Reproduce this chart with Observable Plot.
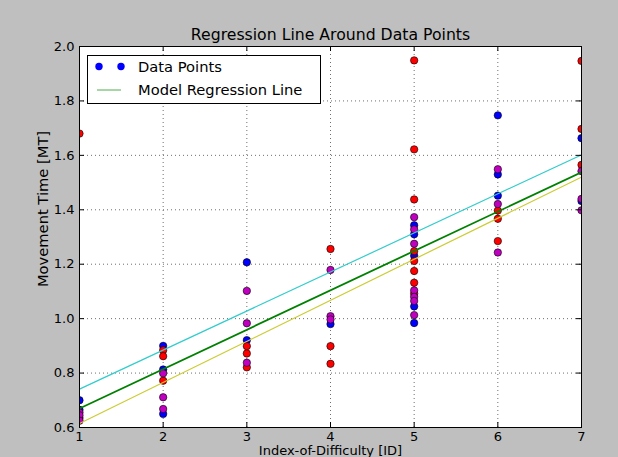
<!DOCTYPE html>
<html><head><meta charset="utf-8">
<script src="https://cdn.jsdelivr.net/npm/d3@7"></script>
<script src="https://cdn.jsdelivr.net/npm/@observablehq/plot@0.6"></script>
<style>
html,body{margin:0;padding:0;background:#bfbfbf;}
#wrap{position:relative;width:618px;height:457px;overflow:hidden;}
#legend{position:absolute;left:87px;top:55px;width:232px;height:47px;border:1px solid #000;background:#fff;}
#legend svg{display:block;}
</style></head><body><div id="wrap"></div>
<script>
// ---- data ----
const xTicks = [1, 2, 3, 4, 5, 6, 7];
const yTicks = [0.6, 0.8, 1.0, 1.2, 1.4, 1.6, 1.8, 2.0];

const xBlue = [1, 1, 2, 2, 2, 3, 3, 4, 5, 5, 5, 5, 5, 6, 6, 6, 7, 7];
const yBlue = [0.70, 0.665, 0.900, 0.813, 0.650, 1.207, 0.921, 0.980, 1.343, 1.310, 1.231, 1.045, 0.984, 1.747, 1.530, 1.452, 1.663, 1.432];

const xRed = [1, 1, 2, 2, 2, 3, 3, 3, 4, 4, 4, 5, 5, 5, 5, 5, 5, 5, 5, 6, 6, 6, 7, 7, 7];
const yRed = [1.68, 0.635, 0.884, 0.862, 0.772, 0.899, 0.872, 0.821, 1.256, 0.899, 0.834, 1.949, 1.622, 1.438, 1.248, 1.212, 1.175, 1.132, 1.092, 1.397, 1.367, 1.285, 1.947, 1.697, 1.565];

const xMagenta = [1, 1, 1, 2, 2, 2, 3, 3, 3, 4, 4, 4, 5, 5, 5, 5, 5, 5, 5, 6, 6, 6, 7, 7, 7];
const yMagenta = [0.655, 0.645, 0.625, 0.799, 0.711, 0.668, 1.102, 0.983, 0.838, 1.179, 1.009, 0.997, 1.373, 1.328, 1.275, 1.104, 1.080, 1.065, 1.013, 1.549, 1.421, 1.243, 1.542, 1.440, 1.398];

const lineX = [1, 7];
const cyanY = [0.741, 1.602];
const greenY = [0.670, 1.538];
const yellowY = [0.615, 1.520];

const titleText = "Regression Line Around Data Points";
const xLabel = "Index-of-Difficulty [ID]";
const yLabel = "Movement Time [MT]";
const legendLabels = ["Data Points", "Model Regression Line"];

// ---- build rows ----
const rows = (xs, ys) => xs.map((x, i) => ({x, y: ys[i]}));
const blue = rows(xBlue, yBlue), red = rows(xRed, yRed), magenta = rows(xMagenta, yMagenta);
const cyanL = rows(lineX, cyanY), greenL = rows(lineX, greenY), yellowL = rows(lineX, yellowY);

const W = 618, H = 457, mL = 79, mR = 37, mT = 46, mB = 30;
const plotW = W - mL - mR, plotH = H - mT - mB, tk = 5;
const font = "DejaVu Sans";
const dotOpts = {x: "x", y: "y", r: 3.7, stroke: "#000", strokeWidth: 0.6, clip: true};
const gridOpts = {stroke: "#6e6e6e", strokeOpacity: 1, strokeWidth: 1, strokeDasharray: "1,3"};

const chart = Plot.plot({
  width: W, height: H,
  marginLeft: mL, marginRight: mR, marginTop: mT, marginBottom: mB,
  style: {background: "#bfbfbf", fontFamily: font, fontSize: "13px", color: "#000"},
  x: {domain: [1, 7]},
  y: {domain: [0.6, 2.0]},
  marks: [
    Plot.frame({fill: "#fff", stroke: null}),
    Plot.gridX(xTicks, gridOpts),
    Plot.gridY(yTicks, gridOpts),
    Plot.dot(blue, {...dotOpts, fill: "#0000ff"}),
    Plot.dot(red, {...dotOpts, fill: "#ff0000"}),
    Plot.dot(magenta, {...dotOpts, fill: "#bf00bf"}),
    Plot.line(cyanL, {x: "x", y: "y", stroke: "#33cccc", strokeWidth: 1.2, clip: true}),
    Plot.line(yellowL, {x: "x", y: "y", stroke: "#cccc33", strokeWidth: 1.2, clip: true}),
    Plot.line(greenL, {x: "x", y: "y", stroke: "#008000", strokeWidth: 1.8, clip: true}),
    Plot.frame({stroke: "#000", strokeWidth: 1}),
    Plot.tickX(xTicks, {x: d => d, insetTop: plotH - tk, stroke: "#000"}),
    Plot.tickX(xTicks, {x: d => d, insetBottom: plotH - tk, stroke: "#000"}),
    Plot.tickY(yTicks, {y: d => d, insetRight: plotW - tk, stroke: "#000"}),
    Plot.tickY(yTicks, {y: d => d, insetLeft: plotW - tk, stroke: "#000"}),
    Plot.axisX(xTicks, {tickSize: 0, tickPadding: 4, label: null, fontSize: 13}),
    Plot.axisY(yTicks, {tickSize: 0, tickPadding: 5, label: null, fontSize: 13, tickFormat: d3.format(".1f")}),
    Plot.text([titleText], {frameAnchor: "top", lineAnchor: "bottom", dy: -7, fontSize: 15.7, fill: "#000"}),
    Plot.text([xLabel], {frameAnchor: "bottom", lineAnchor: "top", dy: 18, fontSize: 13, fill: "#000"}),
    Plot.text([yLabel], {frameAnchor: "left", textAnchor: "middle", dx: -36, dy: -28, rotate: -90, fontSize: 14.7, fill: "#000"})
  ]
});
const wrap = document.getElementById("wrap");
wrap.appendChild(chart);

// ---- legend ----
const leg = document.createElement("div");
leg.id = "legend";
const ns = "http://www.w3.org/2000/svg";
const svg = document.createElementNS(ns, "svg");
svg.setAttribute("width", 232); svg.setAttribute("height", 47);
svg.setAttribute("font-family", font); svg.setAttribute("font-size", 14.7);
function el(tag, attrs) { const e = document.createElementNS(ns, tag); for (const k in attrs) e.setAttribute(k, attrs[k]); svg.appendChild(e); return e; }
el("circle", {cx: 11, cy: 10.5, r: 3.7, fill: "#0000ff"});
el("circle", {cx: 33, cy: 10.5, r: 3.7, fill: "#0000ff"});
el("text", {x: 50, y: 16, fill: "#000"}).textContent = legendLabels[0];
el("line", {x1: 9, x2: 33, y1: 34, y2: 34, stroke: "#4fae4f", "stroke-width": 1});
el("text", {x: 50, y: 38.5, fill: "#000"}).textContent = legendLabels[1];
leg.appendChild(svg);
wrap.appendChild(leg);
</script></body></html>
